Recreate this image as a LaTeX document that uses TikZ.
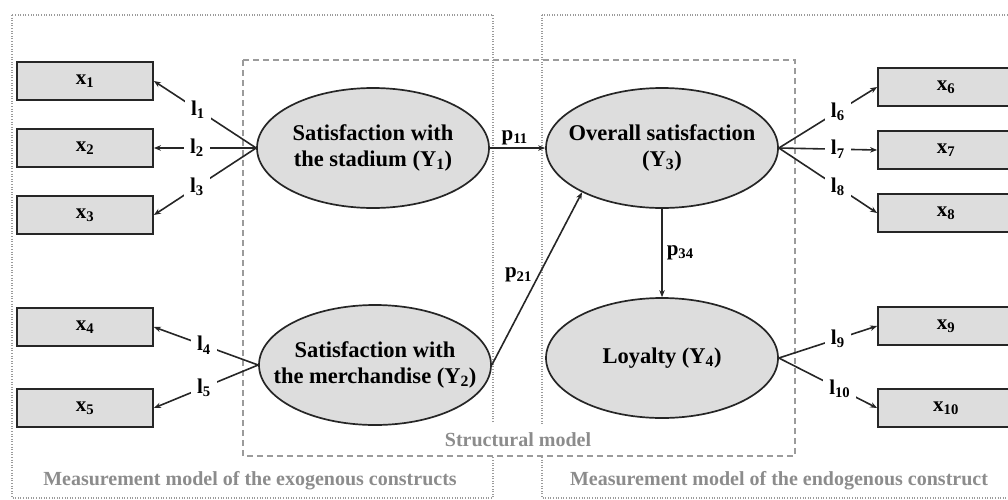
\documentclass[tikz,border=0pt]{standalone}
\usepackage{fontspec}
\setmainfont{Liberation Serif}
\usetikzlibrary{shapes.geometric,arrows.meta}
\definecolor{boxfill}{RGB}{221,221,221}
\definecolor{framegray}{RGB}{155,155,155}
\definecolor{notegray}{RGB}{140,140,140}
\begin{document}
\begin{tikzpicture}[x=1pt,y=-1pt,
  indicator/.style={draw=black!85,line width=1.8pt,fill=boxfill,minimum width=136pt,
    minimum height=38pt,inner sep=0pt,font=\fontsize{21}{25}\selectfont\bfseries},
  construct/.style={ellipse,draw=black!85,line width=1.7pt,fill=boxfill,minimum width=232pt,
    minimum height=120pt,inner xsep=-30pt,inner ysep=0pt,align=center,
    font=\fontsize{22.5}{26}\selectfont\bfseries},
  loadlab/.style={fill=white,inner sep=6pt,font=\fontsize{21}{25}\selectfont\bfseries},
  coeflab/.style={inner sep=2pt,font=\fontsize{21}{25}\selectfont\bfseries},
  link/.style={line width=1.6pt,draw=black!85,-{Stealth[length=7pt,width=5.5pt]}},
  measframe/.style={draw=framegray,line width=1.3pt,dash pattern=on 1pt off 1.6pt},
  structframe/.style={draw=framegray,line width=1.5pt,dash pattern=on 6pt off 4pt},
  note/.style={text=notegray,font=\fontsize{20}{24}\selectfont\bfseries}]
\useasboundingbox (0,0) rectangle (1008,499);

% measurement frames, then the structural caption masking them, then the structural frame
\draw[measframe] (12,15) rectangle (493,498);
\draw[measframe] (542,15) rectangle (1016,498);
\node[note,fill=white,inner xsep=4pt,inner ysep=9pt] (cs) at (518,440) {Structural model};
\draw[structframe] (243,60) rectangle (795,456);

% latent constructs
\node[construct] (Y1) at (373,148) {Satisfaction with\\the stadium (Y\textsubscript{1})};
\node[construct] (Y2) at (375,365) {Satisfaction with\\the merchandise (Y\textsubscript{2})};
\node[construct] (Y3) at (662,148) {Overall satisfaction\\(Y\textsubscript{3})};
\node[construct] (Y4) at (662,358) {Loyalty (Y\textsubscript{4})};

% indicators
\node[indicator] (x1) at (85,81) {x\textsubscript{1}};
\node[indicator] (x2) at (85,148) {x\textsubscript{2}};
\node[indicator] (x3) at (85,215) {x\textsubscript{3}};
\node[indicator] (x4) at (85,327) {x\textsubscript{4}};
\node[indicator] (x5) at (85,408) {x\textsubscript{5}};
\node[indicator] (x6) at (946,87) {x\textsubscript{6}};
\node[indicator] (x7) at (946,150) {x\textsubscript{7}};
\node[indicator] (x8) at (946,213) {x\textsubscript{8}};
\node[indicator] (x9) at (946,326) {x\textsubscript{9}};
\node[indicator] (x10) at (946,408) {x\textsubscript{10}};

% loadings
\draw[link] (Y1.west) -- node[loadlab,pos=.57] {l\textsubscript{1}} (x1.east);
\draw[link] (Y1.west) -- node[loadlab,pos=.58] {l\textsubscript{2}} (x2.east);
\draw[link] (Y1.west) -- node[loadlab,pos=.58] {l\textsubscript{3}} (x3.east);
\draw[link] (Y2.west) -- node[loadlab,pos=.52] {l\textsubscript{4}} (x4.east);
\draw[link] (Y2.west) -- node[loadlab,pos=.52] {l\textsubscript{5}} (x5.east);
\draw[link] (Y3.east) -- node[loadlab,pos=.6] {l\textsubscript{6}} (x6.west);
\draw[link] (Y3.east) -- node[loadlab,pos=.6] {l\textsubscript{7}} (x7.west);
\draw[link] (Y3.east) -- node[loadlab,pos=.6] {l\textsubscript{8}} (x8.west);
\draw[link] (Y4.east) -- node[loadlab,pos=.6] {l\textsubscript{9}} (x9.west);
\draw[link] (Y4.east) -- node[loadlab,pos=.62] {l\textsubscript{10}} (x10.west);

% structural paths
\draw[link] (Y1.east) -- node[coeflab,above,pos=.45] {p\textsubscript{11}} (Y3.west);
\draw[link] (Y2.east) -- node[coeflab,left=4pt,pos=.52] {p\textsubscript{21}} (Y3.209);
\draw[link] (Y3.south) -- node[coeflab,right=2pt] {p\textsubscript{34}} (Y4.north);

% frame captions
\node[note] (cx) at (250,481) {Measurement model of the exogenous constructs};
\node[note] (cn) at (779,481) {Measurement model of the endogenous construct};
\end{tikzpicture}
\end{document}
